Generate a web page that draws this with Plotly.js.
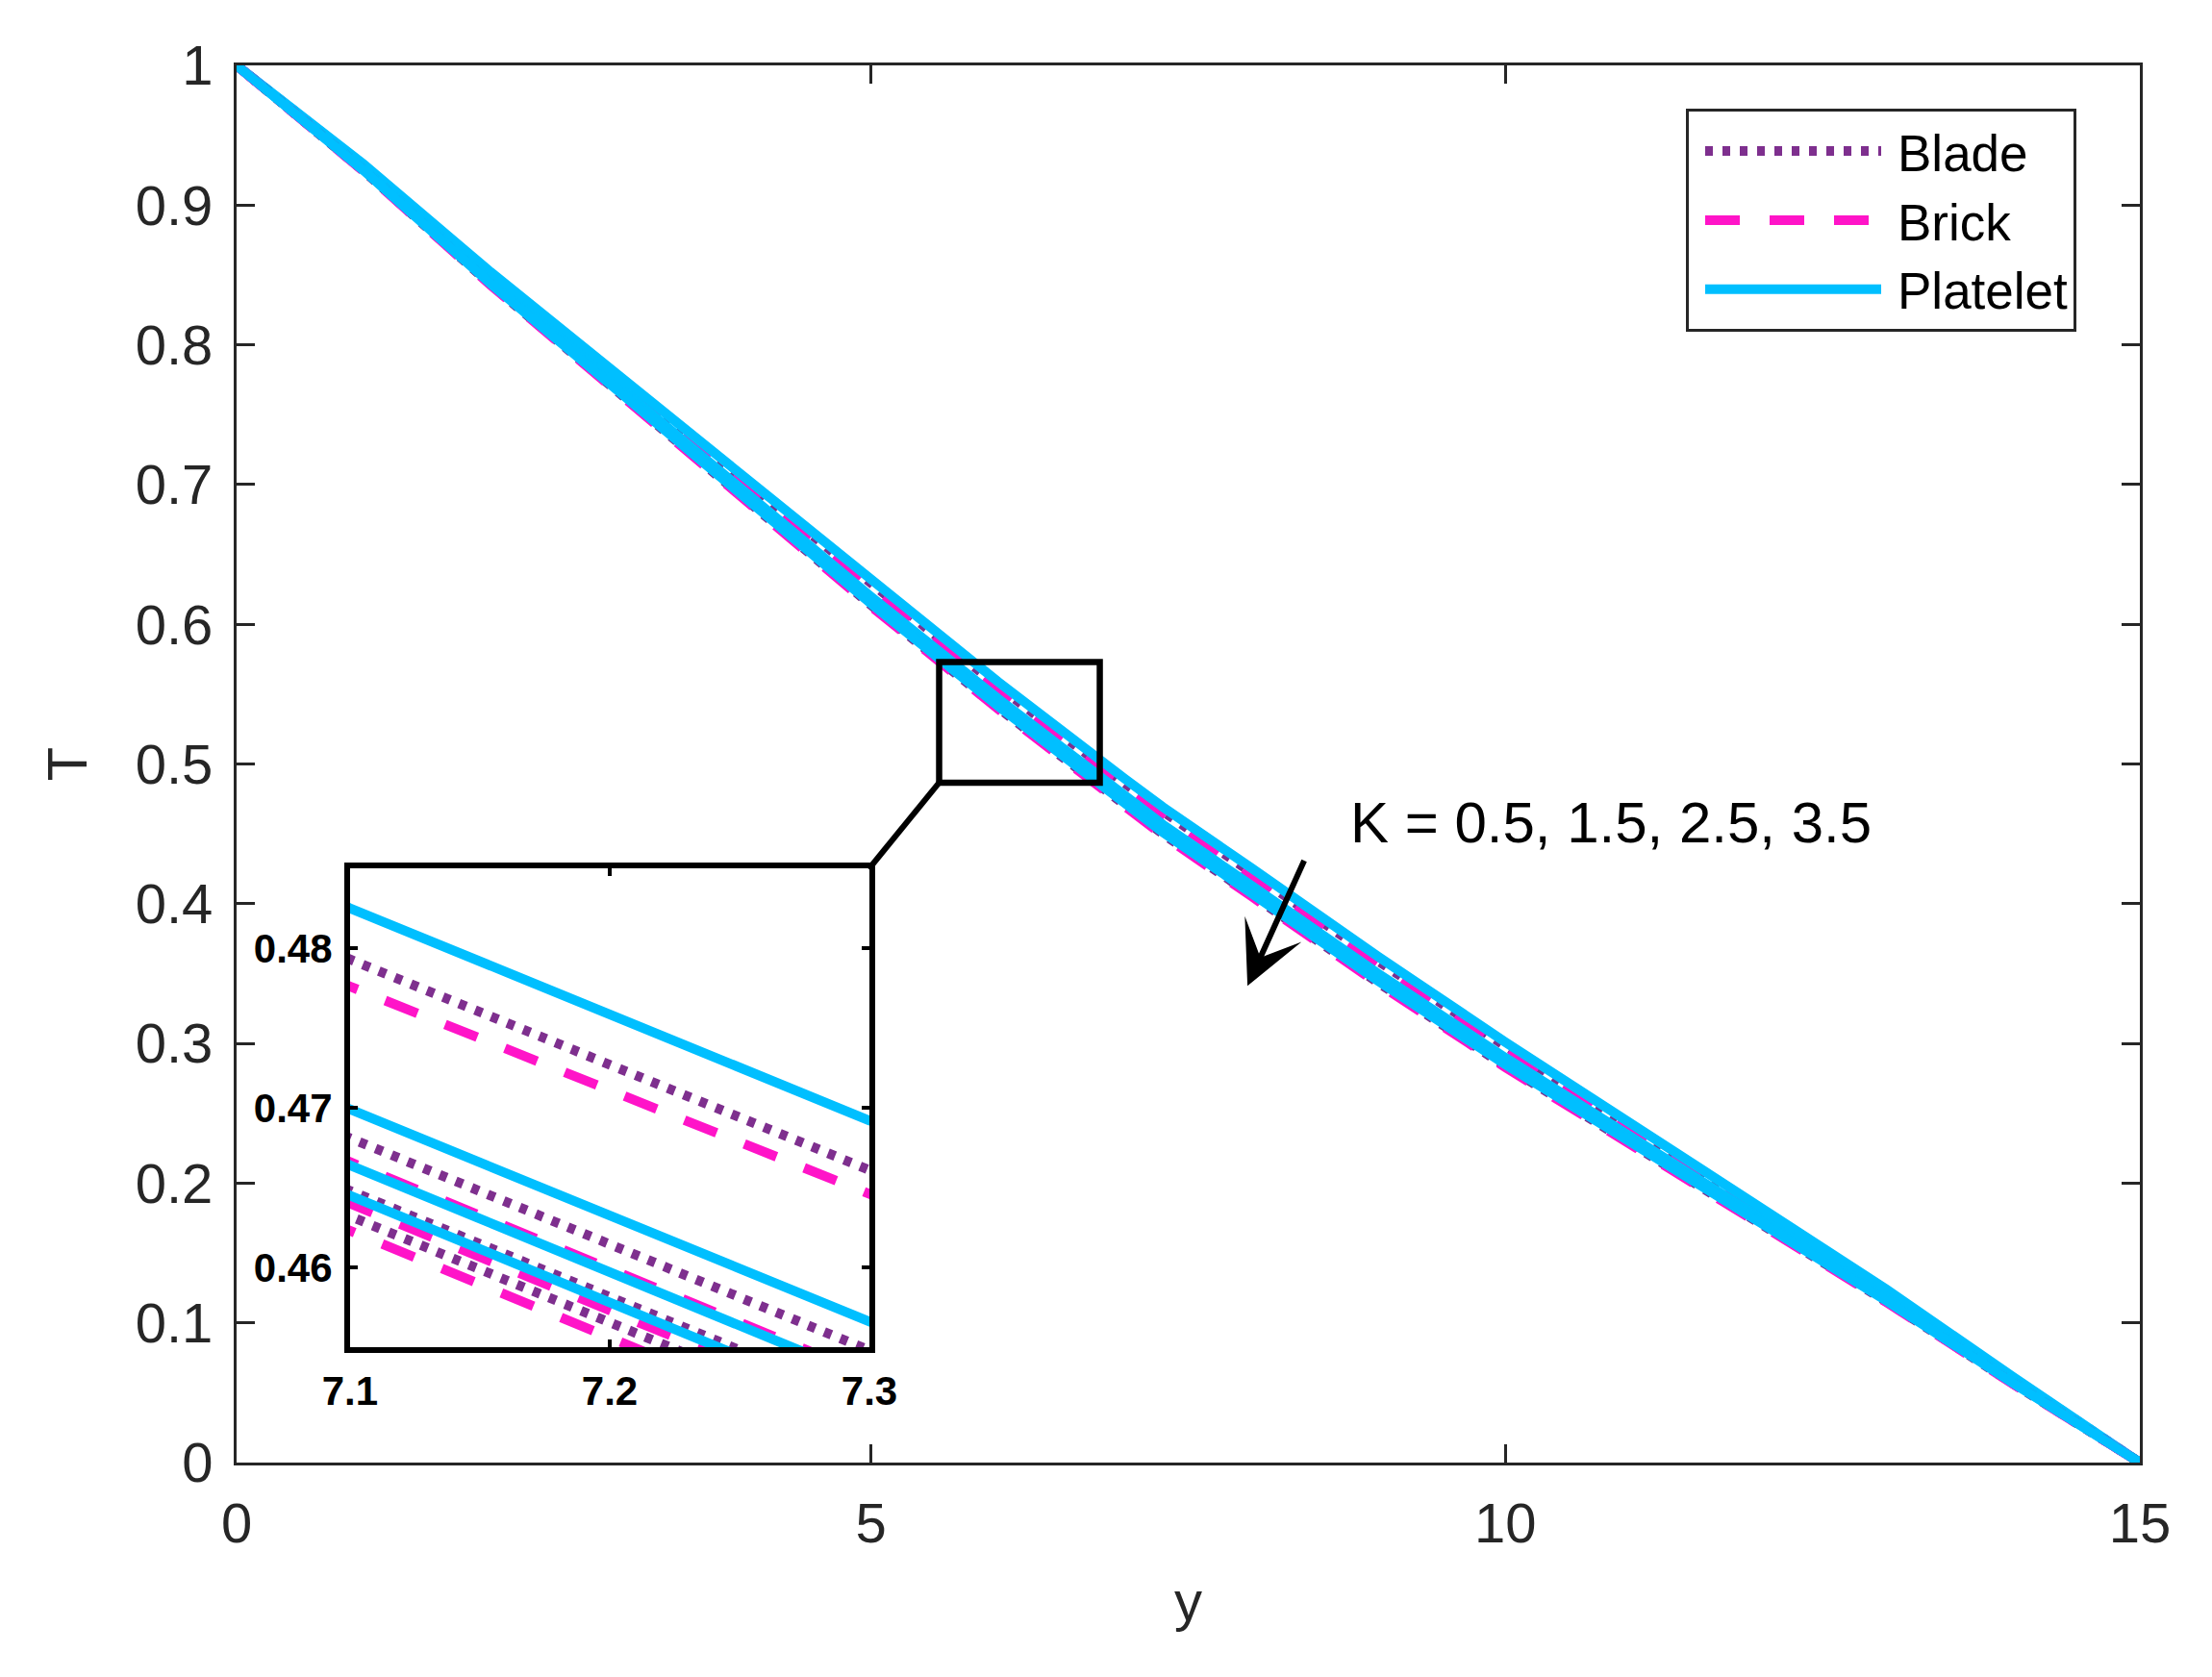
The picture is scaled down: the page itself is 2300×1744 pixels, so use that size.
<!DOCTYPE html>
<html>
<head>
<meta charset="utf-8">
<script src="https://cdn.plot.ly/plotly-3.0.1.min.js"></script>
<style>
  html, body { margin: 0; padding: 0; background: #fff; }
  #chart { width: 2300px; height: 1744px; }
</style>
</head>
<body>
<div id="chart"></div>
<script>
// sample positions along y (7.1 and 7.3)
const yPoints = [0, 1, 2, 3, 4, 5, 6, 7, 7.1, 7.3, 8, 9, 10, 11, 12, 13, 14, 15];
const kValues = [0.5, 1.5, 2.5, 3.5];
const shapeNames = ['Blade', 'Brick', 'Platelet'];

// T(y), one array per shape and K
const bladeK05 = [1, 0.9286, 0.8507, 0.7766, 0.7020, 0.6281, 0.5558, 0.4862, 0.4793, 0.4661, 0.4222, 0.3588, 0.2981, 0.2400, 0.1816, 0.1227, 0.0606, 0];
const brickK05 = [1, 0.9281, 0.8499, 0.7755, 0.7007, 0.6266, 0.5542, 0.4845, 0.4776, 0.4646, 0.4205, 0.3572, 0.2966, 0.2387, 0.1805, 0.1219, 0.0601, 0];
const plateletK05 = [1, 0.9293, 0.8522, 0.7786, 0.7045, 0.6309, 0.5589, 0.4894, 0.4825, 0.4692, 0.4254, 0.3619, 0.3009, 0.2425, 0.1836, 0.1242, 0.0613, 0];
const bladeK15 = [1, 0.9258, 0.8455, 0.7694, 0.6932, 0.6181, 0.5450, 0.4750, 0.4681, 0.4548, 0.4110, 0.3480, 0.2881, 0.2312, 0.1744, 0.1175, 0.0578, 0];
const brickK15 = [1, 0.9254, 0.8448, 0.7684, 0.6920, 0.6168, 0.5436, 0.4735, 0.4666, 0.4532, 0.4095, 0.3466, 0.2868, 0.2300, 0.1734, 0.1168, 0.0574, 0];
const plateletK15 = [1, 0.9262, 0.8464, 0.7705, 0.6946, 0.6197, 0.5468, 0.4768, 0.4699, 0.4566, 0.4128, 0.3498, 0.2897, 0.2326, 0.1755, 0.1184, 0.0582, 0];
const bladeK25 = [1, 0.9249, 0.8440, 0.7672, 0.6906, 0.6152, 0.5419, 0.4717, 0.4648, 0.4515, 0.4077, 0.3449, 0.2852, 0.2286, 0.1722, 0.1160, 0.0569, 0];
const brickK25 = [1, 0.9247, 0.8436, 0.7667, 0.6900, 0.6145, 0.5411, 0.4709, 0.4640, 0.4506, 0.4069, 0.3441, 0.2845, 0.2280, 0.1717, 0.1156, 0.0567, 0];
const plateletK25 = [1, 0.9253, 0.8448, 0.7683, 0.6919, 0.6166, 0.5434, 0.4733, 0.4664, 0.4530, 0.4093, 0.3464, 0.2866, 0.2299, 0.1733, 0.1168, 0.0573, 0];
const bladeK35 = [1, 0.9245, 0.8433, 0.7662, 0.6894, 0.6137, 0.5403, 0.4701, 0.4632, 0.4499, 0.4061, 0.3433, 0.2837, 0.2274, 0.1712, 0.1153, 0.0565, 0];
const brickK35 = [1, 0.9243, 0.8429, 0.7656, 0.6887, 0.6129, 0.5395, 0.4692, 0.4623, 0.4489, 0.4052, 0.3425, 0.2829, 0.2267, 0.1706, 0.1149, 0.0563, 0];
const plateletK35 = [1, 0.9249, 0.8439, 0.7671, 0.6904, 0.6149, 0.5416, 0.4714, 0.4645, 0.4511, 0.4074, 0.3446, 0.2849, 0.2284, 0.1721, 0.1159, 0.0569, 0];

const seriesByK = [
  [bladeK05, brickK05, plateletK05],
  [bladeK15, brickK15, plateletK15],
  [bladeK25, brickK25, plateletK25],
  [bladeK35, brickK35, plateletK35]
];

const lineStyles = {
  Blade: { color: '#7E2F8E', width: 10, dash: '8px,10px' },
  Brick: { color: '#FF14C8', width: 10, dash: '36px,31px' },
  Platelet: { color: '#00BFFF', width: 10, dash: 'solid' }
};

const font = 'Liberation Sans, Arial, Helvetica, sans-serif';
const axisColor = '#262626';

let traces = [];
// main plot, then the zoomed inset (same data, second axes)
['main', 'inset'].forEach((panel) => {
  seriesByK.forEach((group, k) => {
    group.forEach((vals, s) => {
      let name = shapeNames[s];
      traces.push({
        x: yPoints,
        y: vals,
        type: 'scatter',
        mode: 'lines',
        name: name,
        legendgroup: name,
        showlegend: panel === 'main' && k === 0,
        line: lineStyles[name],
        xaxis: panel === 'main' ? 'x' : 'x2',
        yaxis: panel === 'main' ? 'y' : 'y2',
        hoverinfo: 'skip'
      });
    });
  });
});

// legend order Blade, Brick, Platelet
traces.forEach((t) => { t.legendrank = shapeNames.indexOf(t.name) + 1; });

const layout = {
  width: 2300,
  height: 1744,
  margin: { l: 246, r: 75, t: 68, b: 223 },
  paper_bgcolor: '#ffffff',
  plot_bgcolor: '#ffffff',
  font: { family: font, size: 58, color: axisColor },
  showlegend: true,
  legend: {
    x: 0.7615, y: 0.969, xanchor: 'left', yanchor: 'top',
    bgcolor: '#ffffff', bordercolor: axisColor, borderwidth: 3,
    font: { family: font, size: 53, color: '#000000' },
    itemwidth: 207,
    traceorder: 'normal'
  },
  xaxis: {
    range: [0, 15], tickvals: [0, 5, 10, 15],
    showgrid: false, zeroline: false,
    showline: true, linewidth: 3, linecolor: axisColor, mirror: 'ticks',
    ticks: 'inside', ticklen: 19, tickwidth: 3, tickcolor: axisColor,
    tickfont: { size: 58, color: axisColor },
    ticklabelstandoff: 10,
    title: { text: 'y', font: { size: 58, color: axisColor }, standoff: 30 },
    automargin: false
  },
  yaxis: {
    range: [0, 1], dtick: 0.1, tick0: 0,
    showgrid: false, zeroline: false,
    showline: true, linewidth: 3, linecolor: axisColor, mirror: 'ticks',
    ticks: 'inside', ticklen: 19, tickwidth: 3, tickcolor: axisColor,
    tickfont: { size: 58, color: axisColor },
    ticklabelstandoff: 10,
    title: { text: 'T', font: { size: 58, color: axisColor }, standoff: 32 },
    automargin: false
  },
  xaxis2: {
    domain: [0.0596, 0.3325], anchor: 'y2',
    range: [7.1, 7.3], tickvals: [7.1, 7.2, 7.3],
    showgrid: false, zeroline: false,
    showline: true, linewidth: 6, linecolor: '#000000', mirror: 'ticks',
    ticks: 'inside', ticklen: 8, tickwidth: 4, tickcolor: '#000000',
    tickfont: { size: 42, color: '#000000', weight: 'bold' },
    ticklabelstandoff: 4
  },
  yaxis2: {
    domain: [0.0826, 0.4253], anchor: 'x2',
    range: [0.455, 0.485], tickvals: [0.46, 0.47, 0.48],
    showgrid: false, zeroline: false,
    showline: true, linewidth: 6, linecolor: '#000000', mirror: 'ticks',
    ticks: 'inside', ticklen: 8, tickwidth: 4, tickcolor: '#000000',
    tickfont: { size: 42, color: '#000000', weight: 'bold' },
    ticklabelstandoff: 4
  },
  shapes: [
    // zoom window marker
    { type: 'rect', xref: 'x', yref: 'y', x0: 5.537, x1: 6.803, y0: 0.4866, y1: 0.5729,
      line: { color: '#000000', width: 6.5 } },
    // connector to the inset
    { type: 'line', xref: 'x', yref: 'y', x0: 5.537, y0: 0.4866, x1: 4.982, y1: 0.4248,
      line: { color: '#000000', width: 6 } }
  ],
  annotations: [
    { x: 8.76, y: 0.458, xref: 'x', yref: 'y', xanchor: 'left', yanchor: 'middle',
      text: 'K = 0.5, 1.5, 2.5, 3.5', showarrow: false,
      font: { family: font, size: 60, color: '#000000' } },
    { x: 7.967, y: 0.3412, xref: 'x', yref: 'y', ax: 8.419, ay: 0.4318, axref: 'x', ayref: 'y',
      text: '', showarrow: true, arrowhead: 3, arrowsize: 1.8, arrowwidth: 6, arrowcolor: '#000000' }
  ]
};

Plotly.newPlot('chart', traces, layout, { staticPlot: true, displayModeBar: false }).then((gd) => {
  // stretch the legend line samples to the long MATLAB-style swatches
  gd.querySelectorAll('.legend path.js-line').forEach((p) => p.setAttribute('d', 'M17,0h183'));
});
</script>
</body>
</html>
